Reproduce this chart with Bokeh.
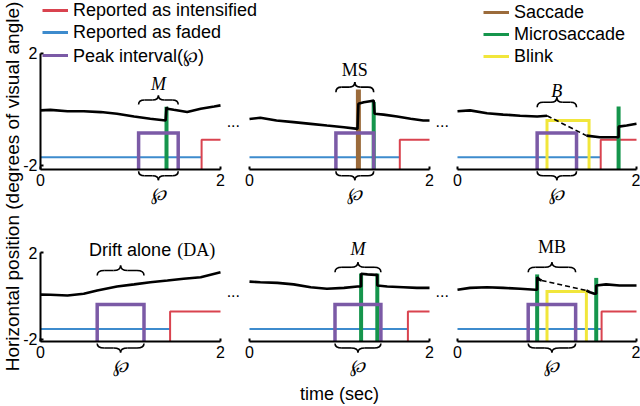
import numpy as np
from bokeh.plotting import figure
from bokeh.models import Range1d, LinearAxis, FixedTicker, Legend, LegendItem, AllLabels
from bokeh.core.properties import value
from bokeh.embed import file_html
from bokeh.resources import INLINE

# ------------------------------------------------------------------ data
X_TICKS = [0, 2]
X_TICK_LABELS = ["0", "2"]
Y_TICKS = [-2, 2]
Y_TICK_LABELS = ["-2", "2"]

# row levels (schematic): peak-interval box top, "faded" level, "intensified" level
r1_peak_top, r1_faded, r1_intens = -0.86, -1.72, -1.10
r2_peak_top, r2_faded, r2_intens = -0.40, -1.52, -0.72

# panel 1 (top left) - microsaccade
p1_t = [0, 0.11, 0.30, 0.48, 0.67, 0.85, 1.04, 1.22, 1.39, 1.40, 1.41, 1.48, 1.63, 1.78, 1.93, 2.0]
p1_y = [-0.05, -0.03, -0.08, -0.08, -0.11, -0.17, -0.27, -0.35, -0.41, 0.06, 0.01, -0.03, -0.11, 0.01, 0.09, 0.13]
p1_micro_t, p1_micro_top = [1.40], [0.08]
p1_peak = [1.09, 1.53]
p1_report = 1.79

# panel 2 (top middle) - microsaccade + saccade
p2_t = [0, 0.12, 0.30, 0.49, 0.68, 0.86, 1.05, 1.20, 1.21, 1.27, 1.34, 1.38, 1.39, 1.49, 1.64, 1.79, 1.93, 2.0]
p2_y = [-0.36, -0.31, -0.41, -0.47, -0.53, -0.59, -0.65, -0.71, 0.19, 0.24, 0.28, 0.30, -0.17, -0.20, -0.27, -0.35, -0.41, -0.41]
p2_sacc_t, p2_sacc_top = [1.21], [0.70]
p2_micro_t, p2_micro_top = [1.38], [0.25]
p2_peak = [0.96, 1.38]
p2_report = 1.67

# panel 3 (top right) - blink
p3_t = [0, 0.14, 0.33, 0.51, 0.70, 0.89, 1.00, 1.44, 1.59, 1.77, 1.80, 1.80, 1.89, 2.0]
p3_y = [-0.08, -0.05, -0.15, -0.20, -0.24, -0.27, -0.24, -0.95, -1.01, -1.01, -1.01, -0.63, -0.59, -0.53]
p3_gap = [1.00, 1.44]
p3_blink, p3_blink_top = [1.00, 1.47], -0.41
p3_micro_t, p3_micro_top = [1.80], [0.09]
p3_peak = [0.89, 1.33]
p3_report = 1.60

# panel 4 (bottom left) - drift alone
p4_t = [0, 0.11, 0.30, 0.48, 0.63, 0.85, 1.04, 1.22, 1.41, 1.59, 1.78, 2.0]
p4_y = [0.06, 0.05, 0.02, 0.10, 0.25, 0.43, 0.53, 0.63, 0.71, 0.79, 0.86, 1.09]
p4_peak = [0.63, 1.15]
p4_report = 1.44

# panel 5 (bottom middle) - two microsaccades
p5_t = [0, 0.12, 0.31, 0.49, 0.68, 0.86, 1.05, 1.20, 1.24, 1.24, 1.31, 1.40, 1.42, 1.42, 1.53, 1.71, 1.86, 2.0]
p5_y = [0.66, 0.63, 0.60, 0.53, 0.40, 0.33, 0.37, 0.43, 0.43, 1.02, 0.99, 0.97, 0.97, 0.48, 0.43, 0.40, 0.37, 0.37]
p5_micro_t, p5_micro_top = [1.24, 1.42], [1.03, 1.03]
p5_peak = [0.95, 1.46]
p5_report = 1.76

# panel 6 (bottom right) - microsaccade + blink
p6_t = [0, 0.14, 0.33, 0.51, 0.70, 0.87, 0.89, 0.89, 0.92, 0.94, 1.44, 1.48, 1.53, 1.55, 1.55, 1.66, 1.81, 1.96, 2.0]
p6_y = [0.28, 0.37, 0.40, 0.37, 0.33, 0.28, 0.28, 0.86, 0.74, 0.71, 0.25, 0.17, 0.10, 0.10, 0.48, 0.53, 0.48, 0.48, 0.48]
p6_gap = [0.94, 1.44]
p6_blink, p6_blink_top = [1.00, 1.44], 0.20
p6_micro_t, p6_micro_top = [0.89, 1.55], [0.99, 0.83]
p6_peak = [0.79, 1.32]
p6_report = 1.61

LEGEND_LEFT = ["Reported as intensified", "Reported as faded", "Peak interval(\u2118)"]
LEGEND_RIGHT = ["Saccade", "Microsaccade", "Blink"]
Y_LABEL = "Horizontal position (degrees of visual angle)"
X_LABEL = "time (sec)"
PEAK_SYMBOL = "\u2118"

# ------------------------------------------------------------------ layout / style
W, H = 640, 406
COLS = {"c1": (40, 180), "c2": (249, 180), "c3": (457, 179)}   # px of t=0, px width of 2 s
ROWS = {"r1": (52.5, 28.0), "r2": (252, 21.7)}               # px (from top) of y=2, px per unit
FLOOR = {"r1": -2.15, "r2": -2.10}

RED, BLUE, PURPLE = "#d9434f", "#3d8bcd", "#7b5aa6"
BROWN, GREEN, YELLOW = "#9b6b3b", "#15954c", "#f1e63b"
SANS, SERIF, SCRIPT = "Liberation Sans", "Liberation Serif", "DejaVu Serif"
HOOK = 0.15
LEG_PITCH = 22
LEG_TOP = 1          # px from top of canvas

# annotation placement (top label, brace tip/cusp y, label y)
ANNOT = {
    1: dict(labels=[("M", SERIF, "italic", None)], brace=(0.16, 0.48), ly=0.91),
    2: dict(labels=[("MS", SERIF, "normal", None)], brace=(0.60, 0.96), ly=1.38),
    3: dict(labels=[("B", SERIF, "italic", None)], brace=(0.06, 0.42), ly=0.66),
    4: dict(labels=[("Drift alone", SANS, "normal", 0.54), ("(DA)", SERIF, "normal", 1.52)],
            brace=(0.94, 1.40), ly=2.12),
    5: dict(labels=[("M", SERIF, "italic", None)], brace=(1.09, 1.55), ly=2.17),
    6: dict(labels=[("MB", SERIF, "normal", None)], brace=(1.09, 1.55), ly=2.24),
}
DOTS = [("c2", "r1", -0.18, -0.42), ("c3", "r1", -0.17, -0.42),
        ("c2", "r2", -0.18, 0.22), ("c3", "r2", -0.17, 0.24)]

PANELS = [
    dict(n=1, col="c1", row="r1", t=p1_t, y=p1_y, sacc=([], []), micro=(p1_micro_t, p1_micro_top),
         blink=None, gap=None, peak=p1_peak, report=p1_report),
    dict(n=2, col="c2", row="r1", t=p2_t, y=p2_y, sacc=(p2_sacc_t, p2_sacc_top), micro=(p2_micro_t, p2_micro_top),
         blink=None, gap=None, peak=p2_peak, report=p2_report),
    dict(n=3, col="c3", row="r1", t=p3_t, y=p3_y, sacc=([], []), micro=(p3_micro_t, p3_micro_top),
         blink=(p3_blink, p3_blink_top), gap=p3_gap, peak=p3_peak, report=p3_report),
    dict(n=4, col="c1", row="r2", t=p4_t, y=p4_y, sacc=([], []), micro=([], []),
         blink=None, gap=None, peak=p4_peak, report=p4_report),
    dict(n=5, col="c2", row="r2", t=p5_t, y=p5_y, sacc=([], []), micro=(p5_micro_t, p5_micro_top),
         blink=None, gap=None, peak=p5_peak, report=p5_report),
    dict(n=6, col="c3", row="r2", t=p6_t, y=p6_y, sacc=([], []), micro=(p6_micro_t, p6_micro_top),
         blink=(p6_blink, p6_blink_top), gap=p6_gap, peak=p6_peak, report=p6_report),
]
LEVELS = {"r1": (r1_peak_top, r1_faded, r1_intens), "r2": (r2_peak_top, r2_faded, r2_intens)}

# ------------------------------------------------------------------ figure
p = figure(width=W, height=H, x_range=Range1d(0, W), y_range=Range1d(0, H),
           x_axis_location=None, y_axis_location=None, toolbar_location=None,
           output_backend="svg", min_border=0, outline_line_color=None, title=None)
p.grid.visible = False
p.background_fill_color = "white"
p.border_fill_color = "white"

for name, (a, width) in COLS.items():
    s = width / 2.0
    start = -a / s
    p.extra_x_ranges[name] = Range1d(start, start + W / s)
for name, (f2, s) in ROWS.items():
    end = 2 + f2 / s
    p.extra_y_ranges[name] = Range1d(end - H / s, end)


def add_brace(kw, x0, x1, y_tip, y_cusp):
    w = x1 - x0
    xm = (x0 + x1) / 2.0
    ym = (y_tip + y_cusp) / 2.0
    h = HOOK * w
    p.quadratic(x0=[x0, xm - h, xm, x1 - h], y0=[y_tip, ym, y_cusp, ym],
                x1=[x0 + h, xm, xm + h, x1], y1=[ym, y_cusp, ym, y_tip],
                cx=[x0, xm, xm, x1], cy=[ym, ym, ym, ym],
                line_color="black", line_width=1.6, **kw)
    p.segment(x0=[x0 + h, xm + h], y0=[ym, ym], x1=[xm - h, x1 - h], y1=[ym, ym],
              line_color="black", line_width=1.6, **kw)


axis_style = dict(major_tick_in=3, major_tick_out=0, minor_tick_in=0, minor_tick_out=0,
                  axis_line_width=2, major_tick_line_width=2,
                  major_label_text_font=SANS, major_label_text_font_size="16px",
                  major_label_text_color="black", major_label_policy=AllLabels())

for pan in PANELS:
    col, row = pan["col"], pan["row"]
    kw = dict(x_range_name=col, y_range_name=row)
    fl = FLOOR[row]
    s_row = ROWS[row][1]
    peak_top, faded, intens = LEVELS[row]

    # axes
    xa = LinearAxis(x_range_name=col, y_range_name=row, fixed_location=fl, bounds=(0, 2),
                    ticker=FixedTicker(ticks=X_TICKS),
                    major_label_overrides=dict(zip(X_TICKS, X_TICK_LABELS)),
                    major_label_standoff=5, **axis_style)
    if col == "c2" and row == "r2":
        xa.axis_label = X_LABEL
        xa.axis_label_standoff = 22
        xa.axis_label_text_font = SANS
        xa.axis_label_text_font_size = "18px"
        xa.axis_label_text_font_style = "normal"
        xa.axis_label_text_color = "black"
    p.add_layout(xa, "below")
    if col == "c1":
        ya = LinearAxis(x_range_name=col, y_range_name=row, fixed_location=0, bounds=(fl, 2),
                        ticker=FixedTicker(ticks=Y_TICKS),
                        major_label_overrides=dict(zip(Y_TICKS, Y_TICK_LABELS)),
                        major_label_standoff=3, **axis_style)
        p.add_layout(ya, "left")

    # report (faded / intensified)
    p.line([0, pan["report"]], [faded, faded], line_color=BLUE, line_width=2, **kw)
    p.line([pan["report"], pan["report"], 2], [fl, intens, intens], line_color=RED,
           line_width=2, **kw)
    # blink
    if pan["blink"] is not None:
        (b0, b1), btop = pan["blink"]
        p.line([b0, b0, b1, b1], [fl, btop, btop, fl], line_color=YELLOW, line_width=3,
               line_join="miter", **kw)
    # saccades
    st, stop = pan["sacc"]
    if st:
        p.segment(x0=st, y0=[fl] * len(st), x1=st, y1=stop, line_color=BROWN, line_width=5, **kw)
    # microsaccades
    mt, mtop = pan["micro"]
    if mt:
        p.segment(x0=mt, y0=[fl] * len(mt), x1=mt, y1=mtop, line_color=GREEN, line_width=4, **kw)
    # peak interval
    a, b = pan["peak"]
    p.line([a, a, b, b], [fl, peak_top, peak_top, fl], line_color=PURPLE,
           line_width=3.5, line_join="miter", **kw)
    # eye trace
    t = np.array(pan["t"], dtype=float)
    y = np.array(pan["y"], dtype=float)
    if pan["gap"] is None:
        p.line(t, y, line_color="black", line_width=2.6, **kw)
    else:
        g0, g1 = pan["gap"]
        m0, m1 = t <= g0, t >= g1
        p.line(t[m0], y[m0], line_color="black", line_width=2.6, **kw)
        p.line(t[m1], y[m1], line_color="black", line_width=2.6, **kw)
        p.line([g0, g1], [np.interp(g0, t, y), np.interp(g1, t, y)], line_color="black",
               line_width=1.6, line_dash="5 3", **kw)

    # braces and labels
    an = ANNOT[pan["n"]]
    add_brace(kw, a, b, an["brace"][0], an["brace"][1])
    for txt, font, style, lx in an["labels"]:
        p.text(x=[(a + b) / 2 if lx is None else lx], y=[an["ly"]], text=[txt],
               text_font=value(font), text_font_style=style, text_font_size="18px",
               text_align="center" if lx is None else "left", text_baseline="middle",
               text_color="black", **kw)
    add_brace(kw, a, b, fl - 2.0 / s_row, fl - 11.0 / s_row)
    p.text(x=[(a + b) / 2], y=[fl - 24.0 / s_row], text=[PEAK_SYMBOL],
           text_font=value(SCRIPT), text_font_style="italic", text_font_size="18px",
           text_align="center", text_baseline="middle", text_color="black", **kw)

for col, row, dx, dy in DOTS:
    p.text(x=[dx], y=[dy], text=["..."], text_font=value(SANS), text_font_size="16px",
           text_align="center", text_baseline="alphabetic", text_color="black",
           x_range_name=col, y_range_name=row)

# y label spanning both rows
p.text(x=[12], y=[H - 186], text=[Y_LABEL], angle=np.pi / 2, text_font=value(SANS),
       text_font_size="19px", text_align="center", text_baseline="middle", text_color="black")

# legend keys (legend-only proxies with no visible data, drawn with the key stroke width)
def key(color):
    return p.line(x=np.array([np.nan]), y=np.array([np.nan]), line_color=color, line_width=3)

leg_kw = dict(padding=0, margin=0, spacing=0, glyph_width=26, glyph_height=LEG_PITCH,
              label_height=LEG_PITCH, label_standoff=5, label_text_font=SANS,
              label_text_font_size="18px", label_text_color="black",
              border_line_color=None, background_fill_alpha=0.0)
leg_bottom = H - (3 * LEG_PITCH + LEG_TOP)
leg1 = Legend(items=[LegendItem(label=lab, renderers=[key(c)])
                     for lab, c in zip(LEGEND_LEFT, [RED, BLUE, PURPLE])],
              location=(42, leg_bottom), **leg_kw)
leg2 = Legend(items=[LegendItem(label=lab, renderers=[key(c)])
                     for lab, c in zip(LEGEND_RIGHT, [BROWN, GREEN, YELLOW])],
              location=(483, leg_bottom), **leg_kw)
p.add_layout(leg1)
p.add_layout(leg2)

open("out.html", "w").write(file_html(p, INLINE))
